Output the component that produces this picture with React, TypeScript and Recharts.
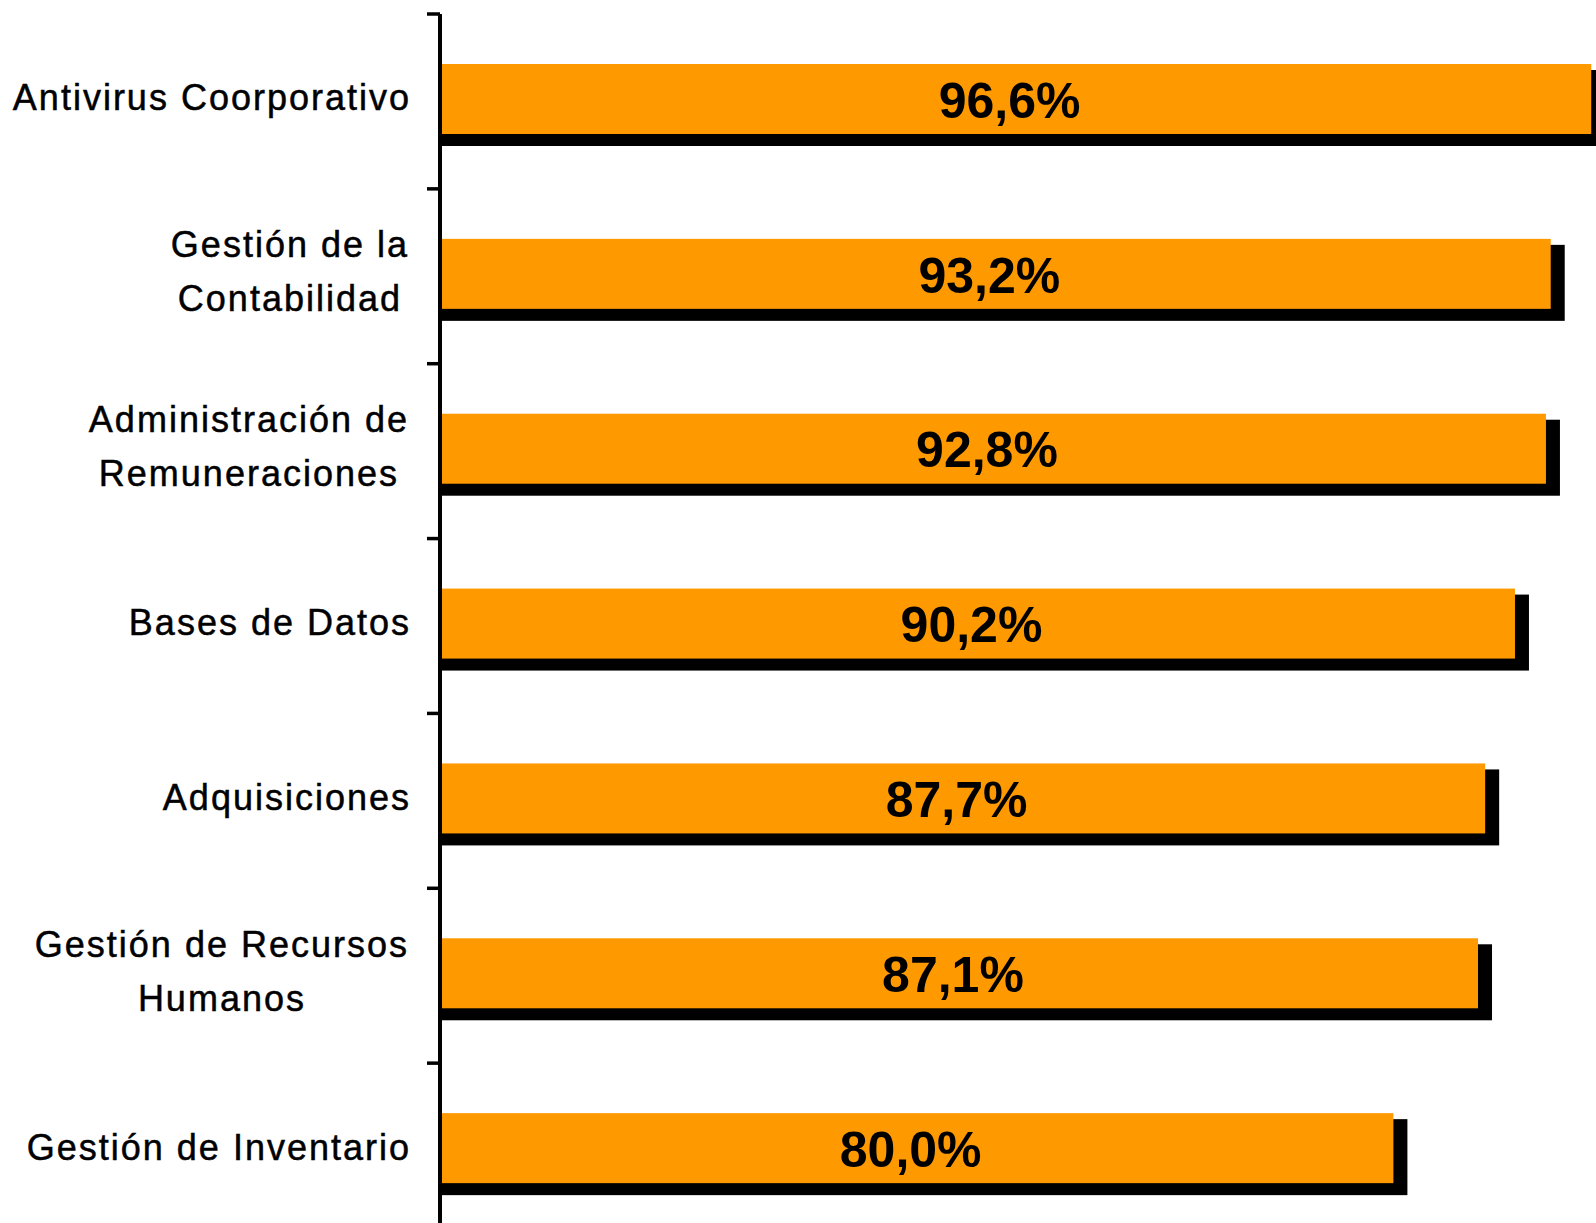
import React from "react"
import { BarChart, Bar, XAxis, YAxis, LabelList } from "recharts"

// category labels, as they are broken into lines on the axis
const categoryLines: string[][] = [
    ["Antivirus Coorporativo"],
    ["Gestión de la", "Contabilidad"],
    ["Administración de", "Remuneraciones"],
    ["Bases de Datos"],
    ["Adquisiciones"],
    ["Gestión de Recursos", "Humanos"],
    ["Gestión de Inventario"],
]
const categories = categoryLines.map((l) => l.join(" "))
const porcentajes = [96.6, 93.2, 92.8, 90.2, 87.7, 87.1, 80.0]

const data = categories.map((name, i) => ({ name, valor: porcentajes[i] }))

const CHART_W = 1596
const CHART_H = 1238
const MARGIN_TOP = 14
const AXIS_X = 440
const BAND = (CHART_H - MARGIN_TOP) / categories.length
const LABEL_FONT = '"Liberation Sans", Arial, sans-serif'
const LABEL_SIZE = 36
const LABEL_SPACING = 2
const LABEL_RIGHT = 411

let canvas: HTMLCanvasElement | null = null
function textWidth(s: string) {
    if (!canvas) canvas = document.createElement("canvas")
    const ctx = canvas.getContext("2d")
    if (!ctx) return s.length * 18
    ctx.font = `${LABEL_SIZE}px "Liberation Sans"`
    return ctx.measureText(s).width + LABEL_SPACING * s.length
}

function CategoryTick(props: any) {
    const { y, payload } = props
    const idx = categories.indexOf(payload.value)
    const lines = categoryLines[idx] || [String(payload.value)]
    // slight stroke to get the heavier look of the original labels
    const textProps = {
        fontSize: LABEL_SIZE,
        fontFamily: LABEL_FONT,
        fill: "#000",
        stroke: "#000",
        strokeWidth: 0.5,
        style: { letterSpacing: `${LABEL_SPACING}px` },
    }
    let content
    if (lines.length === 1) {
        content = (
            <text x={LABEL_RIGHT} y={y + 9} textAnchor="end" {...textProps}>
                {lines[0]}
            </text>
        )
    } else {
        const maxW = Math.max(...lines.map(textWidth))
        const cx = LABEL_RIGHT - 2 - maxW / 2
        content = lines.map((line, i) => (
            <text key={i} x={cx} y={y - 19 + i * 54} textAnchor="middle" {...textProps}>
                {line}
            </text>
        ))
    }
    return (
        <g>
            <line x1={427} x2={AXIS_X} y1={y - BAND / 2} y2={y - BAND / 2} stroke="#000" strokeWidth={3.5} />
            {content}
        </g>
    )
}

// orange bar with a black drop shadow to the right and below
function ShadowBar(props: any) {
    const { x, y, width, height } = props
    const top = y - 2
    return (
        <g>
            <rect x={x + 2} y={top + 6} width={width + 12} height={height + 6} fill="#000" />
            <rect x={x + 2} y={top} width={width - 2} height={height} fill="#FF9900" />
        </g>
    )
}

export default function App() {
    return (
        <div style={{ position: "absolute", left: 0, top: 0, width: CHART_W, height: 1223, overflow: "hidden", background: "#fff" }}>
            <BarChart
                width={CHART_W}
                height={CHART_H}
                data={data}
                layout="vertical"
                margin={{ top: MARGIN_TOP, right: 0, bottom: 0, left: 0 }}
            >
                <XAxis type="number" domain={[0, 97]} hide />
                <YAxis
                    type="category"
                    dataKey="name"
                    width={AXIS_X}
                    interval={0}
                    axisLine={{ stroke: "#000", strokeWidth: 4 }}
                    tickLine={false}
                    tick={<CategoryTick />}
                />
                <Bar dataKey="valor" barSize={70} shape={<ShadowBar />} isAnimationActive={false}>
                    <LabelList
                        dataKey="valor"
                        position="center"
                        dx={-6}
                        dy={-1}
                        fill="#000"
                        fontSize={50}
                        fontWeight="bold"
                        fontFamily={LABEL_FONT}
                        formatter={(v: any) => `${Number(v).toFixed(1).replace(".", ",")}%`}
                    />
                </Bar>
            </BarChart>
        </div>
    )
}
